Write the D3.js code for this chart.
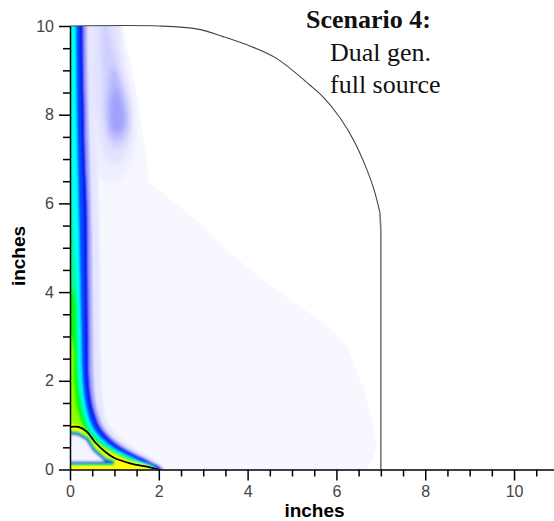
<!DOCTYPE html>
<html>
<head>
<meta charset="utf-8">
<title>Scenario 4</title>
<style>
    html, body { margin: 0; padding: 0; background: #fff; }
    svg { display: block; }
    .axis text { font-family: "Liberation Sans", sans-serif; font-size: 16px; fill: #444; }
    .axis line, .axis path { stroke: #000; stroke-width: 1.5px; }
    .axisLabel { font-family: "Liberation Sans", sans-serif; font-size: 19px; font-weight: bold; fill: #000; }
    .note { font-family: "Liberation Serif", serif; font-size: 26px; fill: #111; }
</style>
</head>
<body>
<svg width="554" height="521"></svg>
<script src="https://d3js.org/d3.v7.min.js"></script>
<script>

    // tick labels
    var xMajor = [0, 2, 4, 6, 8, 10];
    var xMinor = [0.5, 1, 1.5, 2.5, 3, 3.5, 4.5, 5, 5.5, 6.5, 7, 7.5, 8.5, 9, 9.5, 10.5];
    var yMajor = [0, 2, 4, 6, 8, 10];
    var yMinor = [0.5, 1, 1.5, 2.5, 3, 3.5, 4.5, 5, 5.5, 6.5, 7, 7.5, 8.5, 9, 9.5];

    // wall layer: x (inches) where each colour level ends, at each height
    var rowY    = [10, 9, 8, 7, 6, 5, 4, 3, 2, 1.5, 1.2, 1, 0.8, 0.6, 0.4, 0.2, 0];
    var xFade   = [0.52, 0.54, 0.56, 0.60, 0.64, 0.66, 0.67, 0.68, 0.70, 0.74, 0.80, 0.88, 1.03, 1.26, 1.57, 1.92, 2.15];
    var xLav    = [0.38, 0.39, 0.41, 0.44, 0.47, 0.49, 0.50, 0.51, 0.53, 0.58, 0.66, 0.74, 0.88, 1.11, 1.43, 1.81, 2.10];
    var xBlue   = [0.30, 0.31, 0.33, 0.35, 0.39, 0.40, 0.41, 0.42, 0.44, 0.50, 0.58, 0.66, 0.80, 1.02, 1.34, 1.75, 2.07];
    var xAzure  = [0.23, 0.24, 0.26, 0.28, 0.31, 0.33, 0.34, 0.35, 0.37, 0.43, 0.51, 0.59, 0.72, 0.93, 1.25, 1.66, 2.01];
    var xCyan   = [0.13, 0.14, 0.15, 0.17, 0.19, 0.21, 0.23, 0.25, 0.28, 0.34, 0.41, 0.48, 0.61, 0.81, 1.12, 1.55, 1.97];
    var xSpring = [0.03, 0.03, 0.03, 0.03, 0.05, 0.10, 0.16, 0.19, 0.22, 0.28, 0.35, 0.42, 0.54, 0.74, 1.06, 1.49, 1.94];
    var xGreen  = [0, 0, 0, 0, 0, 0, 0.08, 0.13, 0.17, 0.23, 0.30, 0.36, 0.48, 0.68, 1.00, 1.44, 1.91];
    var xLime   = [0, 0, 0, 0, 0, 0, 0, 0.02, 0.08, 0.13, 0.20, 0.28, 0.42, 0.62, 0.94, 1.38, 1.88];
    var xYellow = [0, 0, 0, 0, 0, 0, 0, 0, 0, 0, 0, 0.14, 0.38, 0.57, 0.87, 1.30, 1.85];
    var wallLevels = [xFade, xLav, xBlue, xAzure, xCyan, xSpring, xGreen, xLime, xYellow];
    var wallColors = ["#e6e6ff", "#a8a8ff", "#0000f0", "#0048ff", "#00ffff", "#00ff90", "#00ff00", "#90ff00", "#ffff00"];

    // faint outer region
    var paleEdge = [[0, 10], [1.01, 10], [1.35, 9.3], [1.53, 8.33], [1.73, 6.98], [1.77, 6.48], [2.93, 5.55], [3.6, 4.88],
        [4.73, 3.98], [5.79, 3.26], [6.24, 2.76], [6.6, 1.86], [6.82, 1.05], [6.91, 0.5], [6.87, 0.37], [6.69, 0], [0, 0]];

    // lobe near (1, 8), outermost first
    var lobe1 = [[0.3, 10.4], [1.02, 10.4], [1.25, 9.2], [1.45, 8.2], [1.47, 7.4], [1.32, 6.8], [1.0, 6.5], [0.7, 6.6], [0.45, 7.2], [0.3, 8.5]];
    var lobe2 = [[0.45, 10.4], [0.98, 10.4], [1.18, 9.2], [1.38, 8.3], [1.38, 7.5], [1.22, 7.05], [1.0, 6.9], [0.8, 7.05], [0.65, 7.6], [0.5, 8.5]];
    var lobe3 = [[0.72, 10.3], [0.92, 9.8], [1.12, 8.95], [1.33, 8.2], [1.33, 7.6], [1.12, 7.25], [0.93, 7.3], [0.78, 7.8], [0.74, 8.6]];
    var lobe4 = [[0.98, 9.1], [1.22, 8.35], [1.3, 7.8], [1.12, 7.45], [0.92, 7.5], [0.82, 8.0], [0.86, 8.6]];
    var lobe5 = [[1.04, 8.6], [1.22, 8.05], [1.14, 7.6], [0.96, 7.65], [0.9, 8.1]];
    var lobes = [lobe1, lobe2, lobe3, lobe4, lobe5];
    var lobeColors = ["#eeeeff", "#e2e2ff", "#d0d0ff", "#b8b8ff", "#a2a2fa"];

    // contour lines near the corner
    var blackContour = [[0, 0.96], [0.19, 0.96], [0.38, 0.85], [0.56, 0.62], [0.79, 0.40], [0.98, 0.27], [1.35, 0.14], [1.8, 0.05], [1.99, 0]];
    var hollow = [[-0.2, 0.82], [0, 0.816], [0.19, 0.79], [0.38, 0.68], [0.53, 0.44], [0.79, 0.21], [0.98, 0.155], [-0.2, 0.155]];

    // vessel outline
    var arcEdge = [[0, 10], [2, 10], [2.88, 9.93], [3.45, 9.76], [4.05, 9.55], [4.65, 9.27], [5.4, 8.67], [5.7, 8.4], [6.08, 7.93],
        [6.4, 7.4], [6.69, 6.75], [6.85, 6.3], [6.98, 5.79]];
    var sideEdge = [[6.98, 5.79], [7, 5.4], [7, 0]];

    var noteLines = ["Scenario 4:", "Dual gen.", "full source"];

    var svg = d3.select("svg");

    var x = d3.scaleLinear().domain([0, 10.9]).range([70, 554]);
    var y = d3.scaleLinear().domain([0, 10]).range([469.5, 26]);

    var defs = svg.append("defs");
    defs.append("clipPath").attr("id", "plotClip").append("rect")
        .attr("x", x(0)).attr("y", y(10))
        .attr("width", x(10.9) - x(0)).attr("height", y(0) - y(10));
    defs.append("filter").attr("id", "soft").append("feGaussianBlur").attr("stdDeviation", 0.9);
    defs.append("filter").attr("id", "softer").append("feGaussianBlur").attr("stdDeviation", 2.5);

    var plot = svg.append("g").attr("clip-path", "url(#plotClip)");

    var straight = d3.line().x(function (d) { return x(d[0]); }).y(function (d) { return y(d[1]); });
    var smooth = d3.line().x(function (d) { return x(d[0]); }).y(function (d) { return y(d[1]); }).curve(d3.curveCatmullRom);
    var blob = d3.line().x(function (d) { return x(d[0]); }).y(function (d) { return y(d[1]); }).curve(d3.curveCatmullRomClosed);

    plot.append("path")
        .attr("d", straight(paleEdge) + "Z")
        .attr("fill", "#f6f7ff");

    plot.append("g")
        .attr("filter", "url(#softer)")
        .selectAll("path")
        .data(lobes)
        .enter().append("path")
        .attr("d", function (d) { return blob(d); })
        .attr("fill", function (d, i) { return lobeColors[i]; });

    // each level is a filled shape from the wall out to its edge
    function wallShape(level) {
        var pts = level.map(function (v, i) {
            return [v > 0 ? v : -0.5, rowY[i]];
        });
        pts.unshift([pts[0][0], 10.5]);
        pts.push([pts[pts.length - 1][0], -0.5]);
        return smooth(pts) + "L" + x(-0.5) + "," + y(-0.5) + "L" + x(-0.5) + "," + y(10.5) + "Z";
    }

    plot.append("g")
        .attr("filter", "url(#soft)")
        .selectAll("path")
        .data(wallLevels)
        .enter().append("path")
        .attr("d", wallShape)
        .attr("fill", function (d, i) { return wallColors[i]; });

    var hole = plot.append("g").attr("filter", "url(#soft)");
    hole.append("path").attr("d", straight(hollow) + "Z")
        .attr("fill", "none").attr("stroke", "#30ff60").attr("stroke-width", 6);
    hole.append("path").attr("d", straight(hollow) + "Z")
        .attr("fill", "#f3f3ff").attr("stroke", "#1c50e0").attr("stroke-width", 2.4);

    plot.append("path")
        .attr("d", smooth(blackContour))
        .attr("fill", "none")
        .attr("stroke", "#000")
        .attr("stroke-width", 1.8);

    svg.append("path")
        .attr("d", smooth(arcEdge))
        .attr("fill", "none")
        .attr("stroke", "#444")
        .attr("stroke-width", 1.1);

    svg.append("path")
        .attr("d", straight(sideEdge))
        .attr("fill", "none")
        .attr("stroke", "#777")
        .attr("stroke-width", 1.6);

    // minor ticks, then the labelled ones
    svg.append("g")
        .attr("class", "axis")
        .attr("transform", "translate(0," + y(0) + ")")
        .call(d3.axisBottom(x).tickValues(xMinor).tickSize(7).tickFormat(""))
        .select(".domain").remove();

    svg.append("g")
        .attr("class", "axis")
        .attr("transform", "translate(0," + y(0) + ")")
        .call(d3.axisBottom(x).tickValues(xMajor).tickSize(11).tickSizeOuter(0).tickPadding(5));

    svg.append("g")
        .attr("class", "axis")
        .attr("transform", "translate(" + x(0) + ",0)")
        .call(d3.axisLeft(y).tickValues(yMinor).tickSize(7).tickFormat(""))
        .select(".domain").remove();

    svg.append("g")
        .attr("class", "axis")
        .attr("transform", "translate(" + x(0) + ",0)")
        .call(d3.axisLeft(y).tickValues(yMajor).tickSize(11).tickSizeOuter(0).tickPadding(5));

    svg.append("text")
        .attr("class", "axisLabel")
        .attr("x", 314.5)
        .attr("y", 517)
        .attr("text-anchor", "middle")
        .text("inches");

    svg.append("text")
        .attr("class", "axisLabel")
        .attr("transform", "translate(24.5,256) rotate(-90)")
        .attr("text-anchor", "middle")
        .text("inches");

    svg.selectAll(".note")
        .data(noteLines)
        .enter().append("text")
        .attr("class", "note")
        .attr("x", function (d, i) { return i === 0 ? 306 : 330; })
        .attr("y", function (d, i) { return 28 + [0, 33, 65][i]; })
        .attr("font-weight", function (d, i) { return i === 0 ? "bold" : null; })
        .text(function (d) { return d; });

</script>
</body>
</html>
